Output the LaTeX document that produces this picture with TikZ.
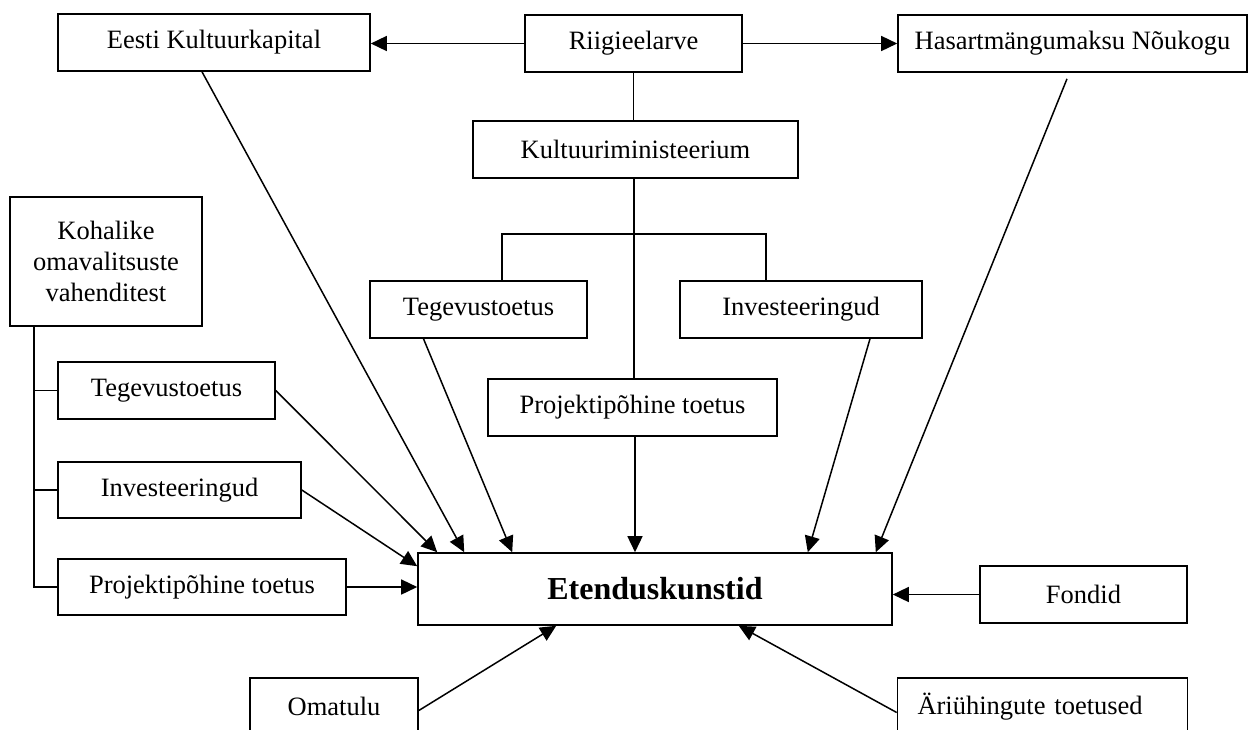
\documentclass[tikz,border=0pt]{standalone}
\usepackage{fontspec}
\setmainfont{Liberation Serif}
\usetikzlibrary{arrows.meta}

\tikzset{
  box/.style={draw, line width=1.6pt, inner sep=0pt, align=center,
    font=\fontsize{26.5}{31}\selectfont},
  arr/.style={line width=1.5pt, -{Triangle[length=16pt, width=15pt]}},
  ln/.style={line width=1.5pt}
}

\begin{document}
\begin{tikzpicture}[x=1pt, y=-1pt]
    \useasboundingbox (0,0) rectangle (1250,729);
    \clip (0,0) rectangle (1250,729);

    % top row
    \node[box, minimum width=312pt, minimum height=57pt] (ek) at (214,42.5) {Eesti Kultuurkapital};
    \node[box, minimum width=217pt, minimum height=57pt] (riig) at (633.5,43.5) {Riigieelarve};
    \node[box, minimum width=349pt, minimum height=57pt] (hasart) at (1072.5,43.5) {Hasartmängumaksu Nõukogu};
    \draw[arr] (riig.west) -- (riig.west -| ek.east);
    \draw[arr] (riig.east) -- (riig.east -| hasart.west);

    % ministry
    \node[box, minimum width=325pt, minimum height=57pt] (km) at (635.5,149.5) {Kultuuriministeerium};
    \draw[ln] (riig.south) -- (riig.south |- km.north);

    \node[box, minimum width=217pt, minimum height=57pt] (kteg) at (478.5,309.5) {Tegevustoetus};
    \node[box, minimum width=242pt, minimum height=57pt] (kinv) at (801,309.5) {Investeeringud};
    \node[box, minimum width=289pt, minimum height=57pt] (ppt) at (632.5,407.5) {Projektipõhine toetus};
    \coordinate (br) at (634,234);
    \draw[ln] ([xshift=-1.5pt]km.south) -- ([xshift=1.5pt]ppt.north);
    \draw[ln] ([xshift=23.5pt]kteg.north) |- (br) -| ([xshift=-35pt]kinv.north);

    % local governments
    \node[box, minimum width=192pt, minimum height=129pt] (kov) at (106,261.5) {Kohalike\\omavalitsuste\\vahenditest};
    \node[box, minimum width=217pt, minimum height=57pt] (lteg) at (166.5,390.5) {Tegevustoetus};
    \node[box, minimum width=243pt, minimum height=56pt] (linv) at (179.5,490) {Investeeringud};
    \node[box, minimum width=288pt, minimum height=56pt] (lppt) at (202,587) {Projektipõhine toetus};
    \draw[ln] ([xshift=-72pt]kov.south) |- (lppt.west);
    \draw[ln] (lteg.west) -- ++(-24,0);
    \draw[ln] (linv.west) -- ++(-24,0);

    % target
    \node[box, minimum width=474pt, minimum height=72pt, font=\fontsize{32}{36}\selectfont\bfseries] (et) at (655,589) {Etenduskunstid};
    \node[box, minimum width=207pt, minimum height=57pt] (fond) at (1083.5,594.5) {Fondid};
    \node[box, minimum width=168pt, minimum height=57pt] (oma) at (334,706.5) {Omatulu};
    \node[box, minimum width=289pt, minimum height=57pt, text width=250pt, align=left, inner xsep=20pt] (ari) at (1042.5,706.5) {Äriühingute toetused};

    \draw[arr] (lppt.east) -- (lppt.east -| et.west);
    \draw[arr] (linv.east) -- ([yshift=-14pt]et.north west);
    \draw[arr] (lteg.east) -- ([xshift=20pt]et.north west);
    \draw[arr] ([xshift=-12pt]ek.south) -- ([xshift=47pt]et.north west);
    \draw[arr] ([xshift=-55pt]kteg.south) -- ([xshift=95pt]et.north west);
    \draw[arr] ([xshift=2.5pt]ppt.south) -- ([xshift=2.5pt]ppt.south |- et.north);
    \draw[arr] ([xshift=69pt]kinv.south) -- ([xshift=-85pt]et.north east);
    \draw[arr] ([xshift=-5.5pt, yshift=-6pt]hasart.south) -- ([xshift=-17pt]et.north east);
    \draw[arr] (fond.west) -- (fond.west -| et.east);
    \draw[arr] ([yshift=-4pt]oma.east) -- ([xshift=139pt]et.south west);
    \draw[arr] ([yshift=-6pt]ari.west) -- ([xshift=-154pt]et.south east);
\end{tikzpicture}
\end{document}
